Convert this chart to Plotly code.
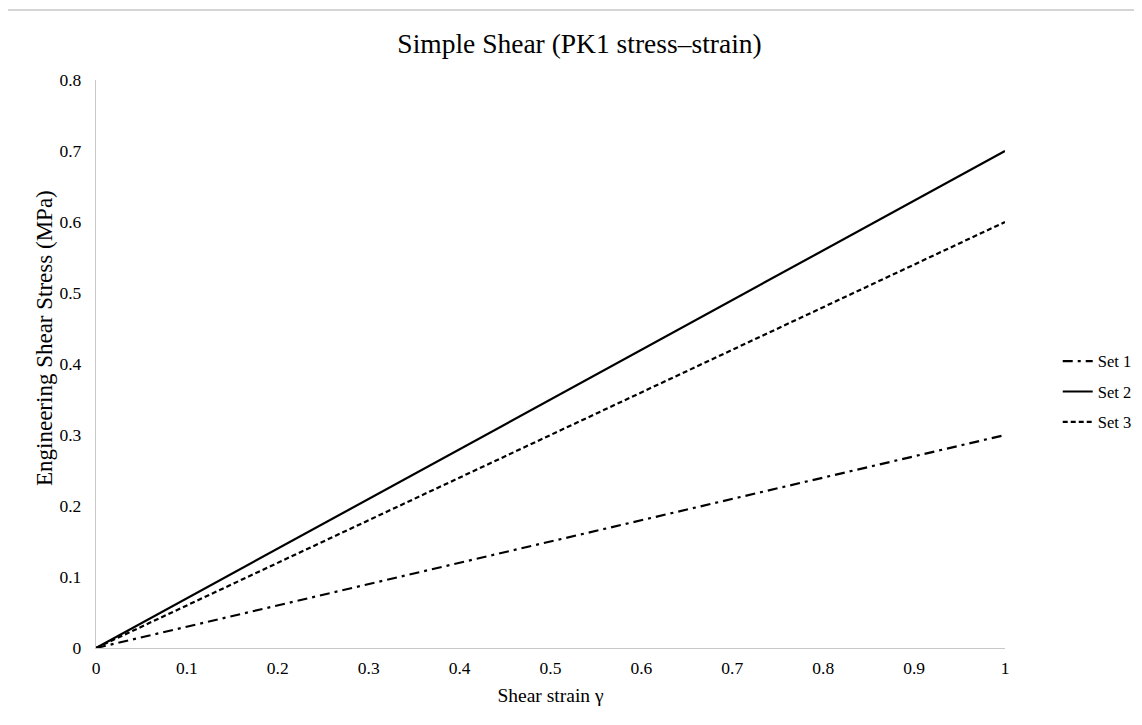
import plotly.graph_objects as go

strain = [0, 0.1, 0.2, 0.3, 0.4, 0.5, 0.6, 0.7, 0.8, 0.9, 1.0]
set1 = [0, 0.03, 0.06, 0.09, 0.12, 0.15, 0.18, 0.21, 0.24, 0.27, 0.30]
set2 = [0, 0.07, 0.14, 0.21, 0.28, 0.35, 0.42, 0.49, 0.56, 0.63, 0.70]
set3 = [0, 0.06, 0.12, 0.18, 0.24, 0.30, 0.36, 0.42, 0.48, 0.54, 0.60]
names = ["Set 1", "Set 2", "Set 3"]
x_ticks = [0, 0.1, 0.2, 0.3, 0.4, 0.5, 0.6, 0.7, 0.8, 0.9, 1]
x_tick_labels = ["0", "0.1", "0.2", "0.3", "0.4", "0.5", "0.6", "0.7", "0.8", "0.9", "1"]
y_ticks = [0, 0.1, 0.2, 0.3, 0.4, 0.5, 0.6, 0.7, 0.8]
y_tick_labels = ["0", "0.1", "0.2", "0.3", "0.4", "0.5", "0.6", "0.7", "0.8"]

FONT = "Liberation Serif, Times New Roman, serif"

fig = go.Figure()
dashes = ["10px,5px,3px,5px", "solid", "5px,3px"]
for name, ys, d in zip(names, [set1, set2, set3], dashes):
    fig.add_trace(go.Scatter(
        x=strain, y=ys, name=name, mode="lines", legendgroup=name,
        line=dict(color="black", width=2.2, dash=d),
    ))

W, H = 1134, 717  # page body has an 8px margin
fig.update_layout(
    width=W, height=H,
    paper_bgcolor="white", plot_bgcolor="white",
    margin=dict(l=88, r=W - 88 - 909, t=72, b=H - 72 - 568, autoexpand=False),
    font=dict(family=FONT, color="black", size=17),
    title=dict(text="Simple Shear (PK1 stress–strain)", x=0.504, xref="container",
               xanchor="center", y=0.950, yref="container", yanchor="middle",
               font=dict(size=27.5, family=FONT, color="black")),
    legend=dict(x=1.058, y=0.451, xanchor="left", yanchor="middle",
                font=dict(size=16.5, family=FONT), tracegroupgap=6,
                traceorder="grouped",
                bgcolor="rgba(0,0,0,0)"),
    xaxis=dict(range=[0, 1], tickvals=x_ticks, ticktext=x_tick_labels,
               showgrid=False, zeroline=False, showline=True, linecolor="#c8c8c8",
               linewidth=1.3, ticks="outside", ticklen=4, tickcolor="rgba(0,0,0,0)",
               tickfont=dict(size=17.5),
               title=dict(text="Shear strain γ", font=dict(size=19.5), standoff=11)),
    yaxis=dict(range=[0, 0.8], tickvals=y_ticks, ticktext=y_tick_labels,
               showgrid=False, zeroline=False, showline=True, linecolor="#c8c8c8",
               linewidth=1.3, ticks="outside", ticklen=10, tickcolor="rgba(0,0,0,0)",
               tickfont=dict(size=17.5)),
    annotations=[dict(text="Engineering Shear Stress (MPa)", xref="paper", yref="paper",
                      x=(44 - 96) / 909, y=(648 - 338) / 568, xanchor="center",
                      yanchor="middle", textangle=-90, showarrow=False,
                      font=dict(size=23, family=FONT, color="black"))],
    shapes=[dict(type="rect", xref="paper", yref="paper",
                 x0=(7 - 96) / 909, x1=(1160 - 96) / 909,
                 y0=(648 - 740) / 568, y1=(648 - 10) / 568,
                 line=dict(color="#c8c8c8", width=1.3), fillcolor="rgba(0,0,0,0)",
                 layer="below")],
)

fig.write_html("out.html")
